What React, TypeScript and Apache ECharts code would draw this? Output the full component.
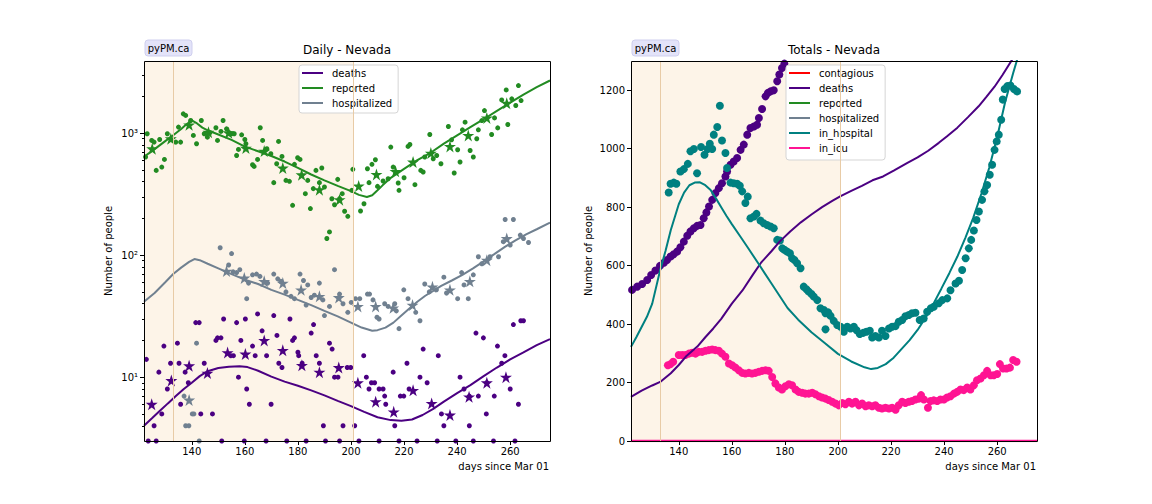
import React, { useEffect, useRef } from 'react';
import * as echarts from 'echarts';

// ---------- axes ----------
const X_MIN = 122;
const X_MAX = 275;
const X_TICKS = [140, 160, 180, 200, 220, 240, 260];
const LOG_MIN = 3;
const LOG_MAX = 3900;
const LOG_TICKS = [10, 100, 1000];
const LOG_MINOR = [4, 5, 6, 7, 8, 9, 20, 30, 40, 50, 60, 70, 80, 90, 200, 300, 400, 500, 600, 700, 800, 900, 2000, 3000];
const TOT_MAX = 1300;
const TOT_TICKS = [0, 200, 400, 600, 800, 1000, 1200];
const SHADE = [122, 201];
const VLINES = [133, 201];

// ---------- Daily (left) ----------
const reportedLine = [[122,640],[126,740],[130,860],[133,960],[136,1080],[138,1180],[140,1270],[142,1200],[144,1110],[146,1055],[150,975],[155,880],[160,775],[165,710],[170,650],[175,585],[180,520],[185,458],[190,410],[195,370],[200,335],[203,312],[206,300],[208,310],[210,340],[212,375],[215,430],[220,510],[225,600],[230,690],[235,820],[240,960],[245,1120],[250,1300],[255,1520],[260,1780],[265,2070],[270,2380],[275,2700]];
const hospitalizedLine = [[122,41.5],[126,49],[130,60],[133,70],[136,79],[139,88],[141,93],[143,91],[146,85],[150,78],[155,70],[160,63],[165,58],[170,52],[175,47.5],[180,43],[185,39],[190,35],[195,31.5],[200,28],[204,25.5],[208,24],[210,24.3],[213,25.5],[216,28],[219,32],[222,36.5],[225,41.5],[228,46.5],[231,51],[234,56],[238,62],[242,69],[246,78],[250,89],[254,102],[258,117],[262,132],[266,148],[270,163],[275,185]];
const deathsLine = [[122,4.0],[125,4.6],[128,5.3],[131,6.1],[134,7.0],[137,8.0],[140,9.0],[143,10.2],[146,11.2],[150,11.9],[154,12.2],[158,12.3],[161,12.1],[165,11.3],[170,10.1],[175,9.2],[180,8.5],[185,7.8],[190,7.1],[195,6.4],[200,5.8],[205,5.2],[210,4.7],[215,4.45],[219,4.4],[223,4.5],[227,4.9],[231,5.5],[235,6.3],[240,7.4],[245,8.6],[250,10.2],[255,12.0],[260,14.0],[265,16.0],[270,18.3],[275,20.5]];

const reportedPts = [[122.6,637],[123.2,988],[124.9,871],[125.8,844],[126.6,495],[127.9,887],[128.7,527],[129.7,609],[130.8,988],[134.0,844],[135.0,1120],[135.8,844],[136.8,1439],[137.7,1396],[139.6,1270],[140.6,957],[141.8,818],[143.6,1270],[144.7,988],[145.9,927],[146.8,1007],[149.1,1107],[149.7,871],[151.0,1033],[151.8,1270],[153.1,1084],[154.1,1007],[155.0,988],[156.0,988],[156.9,656],[157.6,735],[158.8,969],[160.0,887],[160.4,818],[162.9,551],[163.5,534],[164.8,609],[165.8,1107],[166.7,871],[168.3,745],[169.8,678],[170.9,393],[172.0,561],[172.7,855],[174.0,644],[175.5,410],[176.8,403],[178.0,256],[178.7,555],[179.9,628],[180.8,609],[182.8,319],[183.7,410],[184.7,241],[185.8,351],[186.8,495],[188.1,393],[189.0,518],[190.0,362],[190.9,137],[191.9,155],[192.8,290],[193.8,259],[195.0,418],[195.7,290],[196.7,319],[197.6,229],[198.8,208],[200.3,340],[200.7,505],[203.6,230],[204.9,264],[206.2,511],[206.8,393],[207.9,555],[209.2,605],[210.0,366],[212.1,405],[214.0,423],[215.0,768],[215.9,527],[217.8,390],[218.1,340],[220.0,431],[221.5,778],[222.2,807],[224.1,378],[226.3,495],[227.2,480],[227.8,637],[229.7,975],[231.0,617],[232.3,656],[233.9,561],[236.7,1133],[237.9,881],[238.9,471],[240.2,731],[241.1,580],[242.0,1064],[243.0,1230],[244.9,721],[246.1,637],[247.4,899],[248.0,1064],[249.3,1268],[250.3,1531],[253.0,975],[254.1,1333],[255.3,1104],[256.8,1871],[258.5,2259],[259.1,1177],[260.6,1910],[262.1,1683],[263.1,2454],[264.1,1849]];
const reportedAvg = [[125.1,745],[132.1,899],[139.0,1169],[146.3,1019],[153.9,1007],[160.4,754],[167.3,713],[174.3,518],[181.4,456],[188.1,344],[195.7,285],[202.9,369],[209.6,459],[216.8,486],[223.4,580],[230.1,686],[237.3,778],[244.2,957],[251.2,1333],[258.7,1758]];

const hospitalizedPts = [[137.1,7],[137.7,4],[138.9,4],[140.2,5],[140.8,5],[141.8,19],[142.8,3],[150.7,115],[153.9,83],[155.0,103],[155.6,73],[156.9,72],[158.1,76],[160.7,44],[161.4,59],[162.9,69],[164.4,70],[165.7,67],[168.6,59],[170.9,70],[172.4,64],[173.6,61],[175.5,50],[177.4,46],[178.7,44],[180.8,70],[182.1,62],[183.1,39],[183.7,57],[185.0,45],[186.2,47],[188.1,59],[189.4,43],[190.0,32],[191.9,38],[193.8,76],[195.7,48],[197.0,40],[198.8,34],[200.1,41],[201.7,44],[203.3,44],[206.2,48],[207.0,48],[208.3,43],[209.8,31],[210.6,30],[212.7,40],[214.0,38],[216.5,40],[217.1,35],[218.1,25],[219.9,52],[221.5,44],[224.4,34],[226.0,29],[227.8,58],[229.5,50],[232.2,52],[235.0,66],[236.0,49],[240.2,44],[241.7,72],[242.6,57],[244.2,44],[246.1,69],[248.0,97],[249.3,85],[252.4,97],[255.6,97],[257.4,129],[258.1,196],[260.0,121],[261.2,196],[263.8,146],[265.0,137],[266.9,127]];
const hospitalizedAvg = [[139.0,6.5],[153.1,74],[159.8,65],[167.3,61],[174.3,59],[181.2,52],[188.1,46],[195.4,45],[202.6,38],[209.3,38],[215.9,37],[223.2,39],[230.7,55],[237.3,52],[244.8,61],[251.2,91],[258.7,137]];

const deathsPts = [[122.9,14],[123.6,3],[125.8,4],[126.6,3],[127.6,11],[128.7,5],[129.5,18],[130.8,8],[132.0,13],[134.6,19],[135.2,13],[135.8,6],[137.5,11],[138.7,9],[141.5,28],[142.8,28],[143.4,5],[144.7,13],[147.8,5],[149.1,20],[149.7,21],[151.0,21],[151.3,3],[152.0,30],[154.7,15],[155.7,15],[156.9,28],[157.6,10],[158.5,20],[159.8,3],[160.2,30],[160.7,8],[161.7,6],[162.9,18],[163.9,15],[164.8,33],[166.5,24],[168.0,3],[168.2,15],[169.9,6],[170.9,32],[172.1,22],[172.8,13],[174.0,12],[175.8,3],[177.0,30],[178.0,20],[178.7,21],[180.0,16],[180.3,15],[181.6,13],[183.1,3],[185.0,23],[185.9,27],[186.9,15],[188.1,13],[189.6,4],[190.4,3],[191.9,19],[192.9,17],[193.8,10],[195.1,10],[195.7,3],[197.0,4],[198.6,12],[199.9,12],[201.4,4],[203.0,3],[204.8,15],[205.8,10],[206.8,8],[207.7,9],[208.9,9],[210.6,8],[210.6,3],[212.1,8],[212.7,7],[213.1,6],[215.9,11],[216.5,4],[218.1,3],[218.6,7],[219.9,7],[221.1,13],[221.9,8],[224.9,3],[226.0,10],[227.2,17],[228.7,9],[232.5,3],[232.9,15],[234.1,5],[235.0,4],[239.5,3],[241.1,10],[242.6,8],[244.6,7],[244.6,4],[246.1,3],[247.1,23],[248.0,7],[249.9,21],[251.0,5],[251.2,9],[253.7,3],[254.0,7],[255.2,18],[256.8,13],[258.0,15],[260.0,8],[261.2,27],[261.8,3],[263.1,6],[264.0,29],[265.0,29]];
const deathsAvg = [[124.9,6.0],[132.3,9.4],[139.0,12.4],[145.9,10.8],[153.5,15.9],[160.2,15.5],[167.3,20],[174.3,16.6],[181.5,12.5],[188.1,11],[195.4,12],[202.6,9],[209.3,6.3],[216.1,5.2],[223.4,7.8],[230.4,6.1],[237.3,4.9],[244.5,6.9],[251.2,9],[258.4,10]];

// ---------- Totals (right) ----------
const deathsTotalLine = [[122,151],[126,172],[130,190],[133,202],[137,232],[140,260],[143,292],[147,323],[150,355],[153,385],[156,418],[160,470],[164,515],[168,570],[171,610],[175,650],[178,682],[182,717],[186,748],[190,775],[194,800],[198,822],[201,838],[205,856],[209,873],[213,892],[217,905],[221,925],[226,951],[230,970],[234,993],[238,1020],[241,1042],[245,1072],[249,1108],[253,1145],[256,1178],[259,1212],[262,1252],[266,1310]];
const inHospitalLine = [[122,322],[124,355],[126,390],[128,425],[130,470],[133,585],[135,650],[137,722],[140,810],[142,850],[144,875],[146,884],[148,885],[150,875],[152,859],[154,830],[156,800],[158,770],[160,742],[163,702],[166,662],[170,607],[175,538],[181,455],[185,415],[190,372],[195,335],[200,298],[205,272],[210,252],[212.5,246],[215,250],[218,263],[221,285],[224,315],[227,345],[230,380],[233,422],[236,470],[239,522],[242,575],[245,631],[248,695],[251,764],[254,845],[257,935],[260,1040],[263,1160],[266,1258],[268,1320]];
const inIcuLine = [[122,0],[275,0]];

const deathsTotalPts = [[122.4,517],[124.3,528],[126.2,537],[128.1,551],[129.6,568],[131.2,583],[132.9,599],[134.4,610],[135.6,619],[136.9,631],[138.1,639],[139.4,648],[140.6,663],[141.9,682],[143.2,702],[144.4,717],[145.7,728],[146.9,736],[148.2,739],[149.4,762],[150.4,782],[151.4,802],[152.6,825],[153.8,848],[155.1,865],[156.3,882],[157.6,905],[158.2,922],[159.5,945],[160.7,956],[162.0,968],[163.3,996],[164.5,1014],[165.8,1048],[167.0,1071],[168.3,1076],[169.5,1082],[170.2,1105],[171.4,1136],[172.7,1179],[173.6,1191],[174.6,1196],[175.8,1200],[177.1,1231],[177.9,1254],[178.9,1276],[179.8,1291],[180.8,1305]];
const inHospitalPts = [[136.2,850],[136.9,880],[138.1,884],[139.1,880],[140.6,922],[141.9,930],[143.4,948],[144.4,991],[145.7,999],[146.9,916],[148.4,1006],[149.7,979],[150.9,999],[151.7,1017],[152.6,999],[153.2,1048],[154.5,1074],[155.5,1147],[156.3,1028],[157.6,985],[158.2,934],[159.5,884],[160.7,882],[162.0,880],[163.0,873],[163.9,854],[165.1,814],[166.0,836],[167.0,762],[168.3,768],[169.3,777],[170.8,754],[172.0,745],[173.3,739],[174.6,734],[175.8,728],[177.1,688],[178.1,686],[179.0,659],[179.8,654],[180.8,648],[181.9,642],[182.7,625],[183.6,619],[184.6,608],[185.9,591],[187.1,528],[188.1,519],[189.0,511],[190.0,503],[190.9,494],[192.2,482],[193.4,454],[194.7,448],[195.3,437],[195.3,382],[196.3,440],[197.2,428],[198.4,411],[199.7,397],[201.0,391],[202.2,374],[203.5,391],[204.7,385],[206.0,391],[207.0,379],[208.2,366],[209.5,370],[210.7,374],[212.0,377],[212.9,354],[214.1,359],[215.4,354],[216.6,377],[217.9,359],[219.2,385],[220.4,391],[221.7,393],[222.9,408],[224.2,414],[225.4,427],[226.7,431],[227.9,437],[229.2,439],[230.8,414],[232.3,419],[233.6,442],[235.0,454],[236.1,459],[238.0,471],[239.3,482],[241.2,488],[242.4,516],[244.3,539],[245.6,548],[246.8,585],[248.1,625],[249.3,659],[250.2,688],[251.2,720],[252.2,756],[253.1,785],[254.3,825],[255.2,854],[256.2,876],[257.2,911],[258.1,945],[259.0,996],[259.8,1025],[260.6,1048],[261.5,1099],[262.1,1168],[262.8,1204],[263.8,1214],[265.0,1216],[266.3,1204],[267.5,1196]];
const inIcuPts = [[135.9,259],[136.9,263],[137.9,271],[140.0,294],[141.3,294],[142.5,294],[143.8,299],[145.0,302],[146.3,299],[147.5,305],[148.8,305],[150.1,309],[151.3,311],[152.6,313],[153.8,311],[155.1,309],[156.3,299],[157.6,288],[158.9,265],[160.1,259],[161.4,251],[162.6,242],[163.9,233],[165.1,231],[166.4,233],[167.6,231],[168.9,233],[170.2,237],[171.4,240],[172.7,242],[173.9,240],[175.2,219],[176.4,197],[177.7,183],[178.9,176],[180.2,187],[181.5,194],[182.7,191],[184.0,176],[185.2,168],[186.5,165],[187.7,162],[189.0,162],[190.3,165],[191.5,160],[192.8,153],[194.0,149],[195.3,145],[196.5,140],[197.8,134],[199.1,128],[200.3,122],[201.6,130],[202.8,126],[204.1,134],[205.3,128],[206.6,134],[207.9,122],[209.1,128],[210.4,119],[211.6,122],[212.9,119],[214.1,122],[215.4,114],[216.6,111],[217.9,114],[219.2,111],[220.4,114],[221.7,107],[222.9,122],[224.2,134],[225.4,130],[226.7,134],[227.9,137],[229.2,142],[230.5,145],[231.3,157],[232.4,142],[233.9,114],[234.9,137],[236.1,139],[237.4,137],[238.6,142],[239.9,142],[241.1,149],[242.4,153],[243.7,162],[244.9,168],[246.2,176],[247.4,174],[248.7,183],[249.9,176],[251.2,191],[252.4,208],[253.7,214],[255.0,225],[256.2,240],[257.5,225],[258.7,225],[260.0,229],[261.0,263],[262.2,248],[263.5,248],[264.8,251],[266.0,277],[267.3,271]];

const LEFT_LEGEND = ['deaths', 'reported', 'hospitalized'];
const RIGHT_LEGEND = ['contagious', 'deaths', 'reported', 'hospitalized', 'in_hospital', 'in_icu'];

const C = {
  deaths: '#4b0082',
  reported: '#228b22',
  hospitalized: '#708090',
  in_hospital: '#008080',
  in_icu: '#ff1493',
  contagious: '#ff0000',
};

const FONT = 'DejaVu Sans';
const STAR = 'path://M50,0 L61.2,34.5 L97.6,34.5 L68.2,55.9 L79.4,90.5 L50,69.1 L20.6,90.5 L31.8,55.9 L2.4,34.5 L38.8,34.5 Z';
const SUP: Record<number, string> = { 1: '\u00b9', 2: '\u00b2', 3: '\u00b3' };

const G = [
  { left: 144, top: 61, width: 406, height: 380 },
  { left: 631, top: 61, width: 406, height: 380 },
];

function markers(xi: number, yi: number) {
  return {
    type: 'line', name: '_shade' + xi, xAxisIndex: xi, yAxisIndex: yi, data: [], z: 1, silent: true,
    markArea: { silent: true, itemStyle: { color: '#fdf4e8' }, data: [[{ xAxis: SHADE[0] }, { xAxis: SHADE[1] }]] },
    markLine: {
      silent: true, symbol: 'none', label: { show: false },
      lineStyle: { color: '#e8cba6', width: 1, type: 'solid' },
      data: VLINES.map(v => ({ xAxis: v })),
    },
  };
}

function scatter(name: string, data: number[][], color: string, size: number, xi: number, yi: number, symbol = 'circle') {
  return {
    type: 'scatter', name, data, xAxisIndex: xi, yAxisIndex: yi, symbol, symbolSize: size,
    itemStyle: { color, opacity: 1 }, silent: true, z: 2,
  };
}

function line(name: string, data: number[][], color: string, xi: number, yi: number, width = 2, z = 3) {
  return {
    type: 'line', name, data, xAxisIndex: xi, yAxisIndex: yi, showSymbol: false, symbol: 'none',
    lineStyle: { color, width }, itemStyle: { color }, silent: true, z,
  };
}

const xAxisBase = (gi: number) => ({
  type: 'value', gridIndex: gi, min: X_MIN, max: X_MAX,
  axisLine: { show: false },
  axisTick: { show: true, length: 4, lineStyle: { color: '#000' }, customValues: X_TICKS },
  axisLabel: { show: true, margin: 5, color: '#000', fontSize: 10, fontFamily: FONT, customValues: X_TICKS, formatter: (v: number) => String(v) },
  splitLine: { show: false },
});

const legendBase = {
  orient: 'vertical', icon: 'rect', itemWidth: 21, itemHeight: 2, itemGap: 3,
  backgroundColor: '#fff', borderColor: '#d5d5d5', borderWidth: 1, borderRadius: 3, selectedMode: false,
  textStyle: { fontFamily: FONT, fontSize: 10, color: '#000', lineHeight: 12, padding: [0, 0, 0, 4] },
};

export default function App() {
  const ref = useRef<HTMLDivElement>(null);
  useEffect(() => {
    if (!ref.current) return;
    const chart = echarts.init(ref.current, null, { renderer: 'svg' });
    const txt = { fontFamily: FONT, fontSize: 10, fill: '#000' };
    const option: any = {
      animation: false,
      grid: G.map(g => ({ ...g, outerBoundsMode: 'none', containLabel: false, show: false })),
      xAxis: [xAxisBase(0), xAxisBase(1)],
      yAxis: [
        {
          type: 'log', logBase: 10, gridIndex: 0, min: LOG_MIN, max: LOG_MAX, position: 'left',
          axisLine: { show: false },
          axisTick: { show: true, length: 4, lineStyle: { color: '#000' }, customValues: LOG_TICKS },
          axisLabel: {
            show: true, margin: 6, color: '#000', fontSize: 10, fontFamily: FONT, customValues: LOG_TICKS,
            formatter: (v: number) => '10' + (SUP[Math.round(Math.log10(v))] || ''),
          },
          splitLine: { show: false },
        },
        {
          type: 'log', logBase: 10, gridIndex: 0, min: LOG_MIN, max: LOG_MAX, position: 'left', offset: 0,
          axisLine: { show: false },
          axisTick: { show: true, length: 2, lineStyle: { color: '#000' }, customValues: LOG_MINOR },
          axisLabel: { show: false },
          splitLine: { show: false },
        },
        {
          type: 'value', gridIndex: 1, min: 0, max: TOT_MAX, position: 'left',
          axisLine: { show: false },
          axisTick: { show: true, length: 4, lineStyle: { color: '#000' }, customValues: TOT_TICKS },
          axisLabel: { show: true, margin: 6, color: '#000', fontSize: 10, fontFamily: FONT, customValues: TOT_TICKS, formatter: (v: number) => String(v) },
          splitLine: { show: false },
        },
      ],
      legend: [
        { ...legendBase, data: LEFT_LEGEND, left: 299, top: 65, padding: [2, 6, 4, 3] },
        { ...legendBase, data: RIGHT_LEGEND, left: 786, top: 65, padding: [2, 6, 6, 3] },
      ],
      series: [
        // left
        markers(0, 0),
        scatter('reported data', reportedPts, C.reported, 5, 0, 0),
        scatter('hospitalized data', hospitalizedPts, C.hospitalized, 5, 0, 0),
        scatter('deaths data', deathsPts, C.deaths, 5, 0, 0),
        line('deaths', deathsLine, C.deaths, 0, 0, 2),
        line('reported', reportedLine, C.reported, 0, 0, 2),
        line('hospitalized', hospitalizedLine, C.hospitalized, 0, 0, 2),
        scatter('reported avg', reportedAvg, C.reported, 12, 0, 0, STAR),
        scatter('hospitalized avg', hospitalizedAvg, C.hospitalized, 12, 0, 0, STAR),
        scatter('deaths avg', deathsAvg, C.deaths, 12, 0, 0, STAR),
        // right
        markers(1, 2),
        scatter('deaths total data', deathsTotalPts, C.deaths, 8, 1, 2),
        scatter('in_hospital data', inHospitalPts, C.in_hospital, 8, 1, 2),
        scatter('in_icu data', inIcuPts, C.in_icu, 8, 1, 2),
        line('contagious', [], C.contagious, 1, 2, 2),
        line('deaths', deathsTotalLine, C.deaths, 1, 2, 2),
        line('reported', [], C.reported, 1, 2, 2),
        line('hospitalized', [], C.hospitalized, 1, 2, 2),
        line('in_hospital', inHospitalLine, C.in_hospital, 1, 2, 2),
        line('in_icu', inIcuLine, C.in_icu, 1, 2, 2.5),
      ],
      graphic: [
        // spines
        ...G.map(g => ({
          type: 'rect', z: 50, silent: true,
          shape: { x: g.left + 0.5, y: g.top + 0.5, width: g.width, height: g.height },
          style: { fill: 'none', stroke: '#000', lineWidth: 1 },
        })),
        // titles
        { type: 'text', x: 347, y: 50, style: { text: 'Daily - Nevada', fontFamily: FONT, fontSize: 12, fill: '#000', align: 'center', verticalAlign: 'middle' } },
        { type: 'text', x: 834, y: 50, style: { text: 'Totals - Nevada', fontFamily: FONT, fontSize: 12, fill: '#000', align: 'center', verticalAlign: 'middle' } },
        // pyPM boxes
        ...[145, 632].map(x => ({
          type: 'group', x, y: 40, children: [
            { type: 'rect', shape: { x: 0, y: 0, width: 47, height: 16, r: 3 }, style: { fill: '#e3e3f9', stroke: '#cfcfee', lineWidth: 1 } },
            { type: 'text', x: 23.5, y: 8, style: { text: 'pyPM.ca', fontFamily: FONT, fontSize: 10, fill: '#000', align: 'center', verticalAlign: 'middle' } },
          ],
        })),
        // axis titles
        { type: 'text', x: 108, y: 251, rotation: Math.PI / 2, style: { ...txt, text: 'Number of people', align: 'center', verticalAlign: 'middle' } },
        { type: 'text', x: 588, y: 251, rotation: Math.PI / 2, style: { ...txt, text: 'Number of people', align: 'center', verticalAlign: 'middle' } },
        { type: 'text', x: 549, y: 466, style: { ...txt, text: 'days since Mar 01', align: 'right', verticalAlign: 'middle' } },
        { type: 'text', x: 1036, y: 466, style: { ...txt, text: 'days since Mar 01', align: 'right', verticalAlign: 'middle' } },
      ],
    };
    chart.setOption(option);
    return () => chart.dispose();
  }, []);
  return <div ref={ref} style={{ position: 'fixed', left: 0, top: 0, width: 1152, height: 504, background: '#fff' }} />;
}
